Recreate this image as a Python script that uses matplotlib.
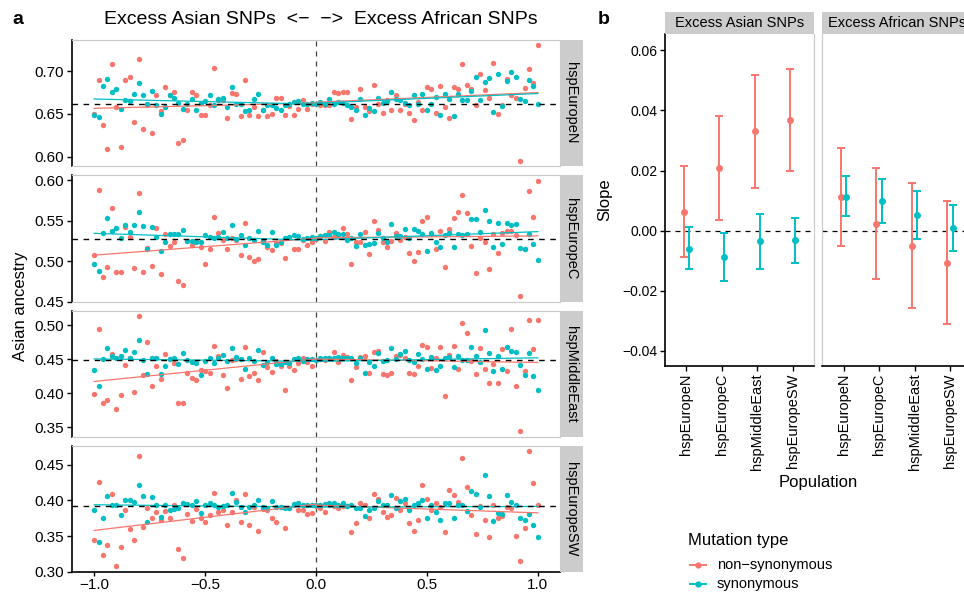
import numpy as np
import matplotlib
matplotlib.use("Agg")
import matplotlib.pyplot as plt
from matplotlib.lines import Line2D

plt.rcParams['font.family'] = ['Liberation Sans', 'DejaVu Sans']

RED = '#F8766D'
CYAN = '#00BFC4'
GREY_STRIP = '#CCCCCC'
GREY_LINE = '#C8C8C8'

populations = ["hspEuropeN", "hspEuropeC", "hspMiddleEast", "hspEuropeSW"]
mutation_types = ["non\u2212synonymous", "synonymous"]
direction = ["Excess Asian SNPs", "Excess African SNPs"]

# position along the Asian <-> African excess axis
x_grid = np.linspace(-1, 1, 101)

# ---- panel a: Asian ancestry per bin ----
nonsyn_europeN = [
    0.650, 0.690, 0.637, 0.609, 0.708, 0.658, 0.611, 0.690, 0.693, 0.641,
    0.714, 0.632, 0.660, 0.628, 0.672, 0.653, 0.681, 0.672, 0.675, 0.616,
    0.620, 0.655, 0.676, 0.672, 0.649, 0.649, 0.660, 0.703, 0.666, 0.666,
    0.645, 0.674, 0.673, 0.647, 0.690, 0.649, 0.658, 0.647, 0.655, 0.647,
    0.650, 0.668, 0.668, 0.649, 0.659, 0.649, 0.656, 0.666, 0.656, 0.662,
    0.662,
    0.660, 0.660, 0.660, 0.676, 0.674, 0.676, 0.675, 0.644, 0.658, 0.679,
    0.658, 0.653, 0.684, 0.662, 0.651, 0.666, 0.655, 0.672, 0.655, 0.662,
    0.651, 0.643, 0.664, 0.655, 0.681, 0.679, 0.651, 0.682, 0.658, 0.645,
    0.681, 0.679, 0.708, 0.684, 0.679, 0.660, 0.696, 0.678, 0.668, 0.709,
    0.650, 0.660, 0.691, 0.672, 0.669, 0.595, 0.680, 0.702, 0.686, 0.730]
syn_europeN = [
    0.649, 0.646, 0.682, 0.691, 0.676, 0.679, 0.656, 0.666, 0.665, 0.673,
    0.686, 0.672, 0.661, 0.677, 0.660, 0.650, 0.658, 0.672, 0.669, 0.663,
    0.656, 0.661, 0.667, 0.655, 0.663, 0.665, 0.672, 0.660, 0.667, 0.669,
    0.658, 0.681, 0.662, 0.661, 0.653, 0.655, 0.667, 0.673, 0.655, 0.660,
    0.660, 0.657, 0.654, 0.660, 0.661, 0.664, 0.665, 0.661, 0.662, 0.663,
    0.662,
    0.664, 0.662, 0.667, 0.662, 0.664, 0.663, 0.660, 0.658, 0.654, 0.667,
    0.649, 0.657, 0.653, 0.668, 0.663, 0.665, 0.676, 0.667, 0.666, 0.663,
    0.660, 0.672, 0.662, 0.673, 0.654, 0.662, 0.670, 0.649, 0.673, 0.667,
    0.647, 0.673, 0.666, 0.666, 0.677, 0.693, 0.666, 0.687, 0.692, 0.652,
    0.696, 0.659, 0.688, 0.699, 0.693, 0.667, 0.665, 0.690, 0.682, 0.662]

nonsyn_europeC = [
    0.508, 0.588, 0.480, 0.493, 0.566, 0.486, 0.487, 0.542, 0.530, 0.491,
    0.584, 0.487, 0.516, 0.494, 0.541, 0.484, 0.534, 0.519, 0.524, 0.475,
    0.471, 0.525, 0.520, 0.525, 0.517, 0.497, 0.515, 0.554, 0.535, 0.526,
    0.515, 0.529, 0.526, 0.508, 0.547, 0.505, 0.500, 0.503, 0.526, 0.517,
    0.514, 0.522, 0.522, 0.504, 0.529, 0.515, 0.515, 0.526, 0.520, 0.524,
    0.527,
    0.531, 0.525, 0.536, 0.530, 0.531, 0.541, 0.534, 0.496, 0.524, 0.523,
    0.536, 0.509, 0.549, 0.538, 0.524, 0.517, 0.525, 0.535, 0.526, 0.530,
    0.510, 0.500, 0.511, 0.550, 0.554, 0.534, 0.515, 0.537, 0.493, 0.539,
    0.553, 0.561, 0.581, 0.559, 0.519, 0.485, 0.529, 0.524, 0.490, 0.533,
    0.510, 0.535, 0.537, 0.537, 0.532, 0.457, 0.515, 0.586, 0.554, 0.599]
syn_europeC = [
    0.497, 0.488, 0.535, 0.553, 0.537, 0.541, 0.528, 0.545, 0.536, 0.545,
    0.561, 0.543, 0.515, 0.542, 0.530, 0.512, 0.524, 0.533, 0.533, 0.533,
    0.538, 0.525, 0.525, 0.523, 0.523, 0.532, 0.530, 0.529, 0.530, 0.536,
    0.529, 0.545, 0.527, 0.532, 0.520, 0.529, 0.526, 0.537, 0.524, 0.520,
    0.536, 0.520, 0.524, 0.529, 0.530, 0.532, 0.531, 0.527, 0.529, 0.530,
    0.528,
    0.531, 0.532, 0.532, 0.536, 0.533, 0.533, 0.526, 0.529, 0.519, 0.533,
    0.520, 0.521, 0.522, 0.535, 0.528, 0.524, 0.546, 0.531, 0.531, 0.539,
    0.528, 0.539, 0.537, 0.533, 0.512, 0.535, 0.523, 0.517, 0.532, 0.535,
    0.517, 0.533, 0.532, 0.533, 0.552, 0.552, 0.536, 0.563, 0.550, 0.518,
    0.547, 0.521, 0.547, 0.545, 0.546, 0.516, 0.515, 0.533, 0.521, 0.502]

nonsyn_middleEast = [
    0.398, 0.494, 0.386, 0.389, 0.458, 0.376, 0.397, 0.441, 0.452, 0.402,
    0.513, 0.426, 0.475, 0.411, 0.440, 0.420, 0.458, 0.450, 0.444, 0.386,
    0.385, 0.430, 0.422, 0.419, 0.434, 0.433, 0.429, 0.469, 0.454, 0.426,
    0.408, 0.448, 0.450, 0.421, 0.468, 0.425, 0.430, 0.419, 0.461, 0.438,
    0.431, 0.447, 0.440, 0.404, 0.440, 0.434, 0.444, 0.451, 0.445, 0.440,
    0.448,
    0.450, 0.448, 0.452, 0.460, 0.445, 0.456, 0.453, 0.419, 0.438, 0.453,
    0.455, 0.429, 0.460, 0.462, 0.428, 0.426, 0.429, 0.455, 0.456, 0.451,
    0.430, 0.428, 0.439, 0.470, 0.467, 0.437, 0.451, 0.467, 0.396, 0.456,
    0.469, 0.435, 0.503, 0.488, 0.447, 0.428, 0.466, 0.436, 0.415, 0.443,
    0.415, 0.464, 0.433, 0.494, 0.411, 0.344, 0.433, 0.508, 0.465, 0.507]
syn_middleEast = [
    0.434, 0.411, 0.450, 0.466, 0.454, 0.452, 0.454, 0.463, 0.452, 0.461,
    0.478, 0.448, 0.428, 0.451, 0.452, 0.428, 0.440, 0.450, 0.452, 0.443,
    0.459, 0.449, 0.445, 0.444, 0.427, 0.447, 0.452, 0.444, 0.451, 0.456,
    0.447, 0.466, 0.453, 0.450, 0.435, 0.451, 0.447, 0.463, 0.441, 0.445,
    0.452, 0.443, 0.443, 0.446, 0.444, 0.450, 0.451, 0.447, 0.450, 0.450,
    0.448,
    0.451, 0.451, 0.451, 0.451, 0.453, 0.452, 0.451, 0.452, 0.444, 0.452,
    0.430, 0.446, 0.440, 0.459, 0.447, 0.448, 0.466, 0.450, 0.457, 0.462,
    0.449, 0.446, 0.457, 0.450, 0.435, 0.453, 0.434, 0.439, 0.452, 0.453,
    0.438, 0.455, 0.448, 0.448, 0.467, 0.454, 0.446, 0.493, 0.459, 0.433,
    0.455, 0.435, 0.468, 0.462, 0.461, 0.441, 0.426, 0.459, 0.425, 0.404]

nonsyn_europeSW = [
    0.345, 0.426, 0.323, 0.337, 0.409, 0.308, 0.334, 0.387, 0.360, 0.345,
    0.463, 0.363, 0.390, 0.375, 0.384, 0.373, 0.385, 0.375, 0.393, 0.332,
    0.319, 0.381, 0.371, 0.388, 0.376, 0.369, 0.379, 0.410, 0.384, 0.387,
    0.366, 0.384, 0.400, 0.369, 0.409, 0.365, 0.391, 0.357, 0.388, 0.386,
    0.375, 0.369, 0.391, 0.361, 0.390, 0.393, 0.387, 0.386, 0.381, 0.382,
    0.392,
    0.389, 0.384, 0.394, 0.392, 0.389, 0.392, 0.392, 0.355, 0.368, 0.397,
    0.394, 0.375, 0.409, 0.402, 0.384, 0.377, 0.379, 0.404, 0.386, 0.396,
    0.368, 0.357, 0.373, 0.421, 0.402, 0.387, 0.396, 0.391, 0.356, 0.414,
    0.407, 0.398, 0.459, 0.419, 0.379, 0.353, 0.392, 0.372, 0.349, 0.394,
    0.376, 0.378, 0.391, 0.390, 0.350, 0.315, 0.361, 0.469, 0.424, 0.393]
syn_europeSW = [
    0.386, 0.342, 0.376, 0.406, 0.393, 0.393, 0.380, 0.400, 0.401, 0.398,
    0.421, 0.406, 0.370, 0.405, 0.393, 0.377, 0.393, 0.386, 0.388, 0.390,
    0.397, 0.395, 0.393, 0.399, 0.383, 0.394, 0.397, 0.393, 0.391, 0.392,
    0.393, 0.410, 0.398, 0.391, 0.384, 0.391, 0.394, 0.401, 0.391, 0.389,
    0.399, 0.391, 0.391, 0.390, 0.390, 0.395, 0.397, 0.393, 0.394, 0.394,
    0.394,
    0.394, 0.395, 0.396, 0.397, 0.393, 0.397, 0.392, 0.394, 0.390, 0.390,
    0.378, 0.387, 0.390, 0.399, 0.394, 0.394, 0.408, 0.390, 0.399, 0.402,
    0.387, 0.393, 0.397, 0.400, 0.375, 0.394, 0.384, 0.373, 0.396, 0.397,
    0.375, 0.393, 0.393, 0.385, 0.413, 0.409, 0.391, 0.435, 0.406, 0.371,
    0.382, 0.381, 0.408, 0.398, 0.394, 0.376, 0.373, 0.381, 0.365, 0.348]

mean_ancestry = [0.662, 0.5275, 0.4485, 0.392]

a_yticks = [[0.60, 0.65, 0.70],
            [0.45, 0.50, 0.55, 0.60],
            [0.35, 0.40, 0.45, 0.50],
            [0.30, 0.35, 0.40, 0.45]]
a_xticks = [-1.0, -0.5, 0.0, 0.5, 1.0]
a_xticklabels = ["\u22121.0", "\u22120.5", "0.0", "0.5", "1.0"]

# ---- panel b: slopes with confidence intervals ----
asian_nonsyn = [0.0062, 0.0209, 0.0331, 0.0369]
asian_nonsyn_lo = [-0.0089, 0.0037, 0.0143, 0.0200]
asian_nonsyn_hi = [0.0214, 0.0381, 0.0517, 0.0537]
asian_syn = [-0.0060, -0.0087, -0.0036, -0.0032]
asian_syn_lo = [-0.0129, -0.0167, -0.0126, -0.0106]
asian_syn_hi = [0.0011, -0.0009, 0.0054, 0.0043]

african_nonsyn = [0.0113, 0.0023, -0.0050, -0.0108]
african_nonsyn_lo = [-0.0050, -0.0162, -0.0256, -0.0312]
african_nonsyn_hi = [0.0274, 0.0208, 0.0158, 0.0098]
african_syn = [0.0113, 0.0100, 0.0053, 0.0009]
african_syn_lo = [0.0048, 0.0024, -0.0028, -0.0067]
african_syn_hi = [0.0181, 0.0173, 0.0133, 0.0084]

b_yticks = [-0.04, -0.02, 0.00, 0.02, 0.04, 0.06]
b_yticklabels = ["\u22120.04", "\u22120.02", "0.00", "0.02", "0.04", "0.06"]

W, H = 964, 592
fig = plt.figure(figsize=(W / 100, H / 100), dpi=100)


def box(l, t, r, b):
    return [l / W, 1 - b / H, (r - l) / W, (b - t) / H]


def fx(x):
    return x / W


def fy(y):
    return 1 - y / H


# ================= panel a =================
nonsyn_all = [nonsyn_europeN, nonsyn_europeC, nonsyn_middleEast, nonsyn_europeSW]
syn_all = [syn_europeN, syn_europeC, syn_middleEast, syn_europeSW]
rows = [(40, 166), (175, 302), (311, 437), (446, 572)]
ylims = [(0.5891, 0.7362), (0.4496, 0.6062), (0.3353, 0.5206), (0.2995, 0.4764)]

for k in range(4):
    top, bot = rows[k]
    ax = fig.add_axes(box(72, top, 560, bot))
    ax.set_xlim(-1.1, 1.1)
    ax.set_ylim(*ylims[k])
    ax.axvline(0, color='#444444', lw=0.9, ls=(0, (4, 4)), zorder=1)
    ax.scatter(x_grid, nonsyn_all[k], s=15, color=RED, lw=0, zorder=3)
    ax.scatter(x_grid, syn_all[k], s=15, color=CYAN, lw=0, zorder=3)
    # fitted lines on each side of zero, slope taken from panel b
    series = ((nonsyn_all[k], asian_nonsyn[k], african_nonsyn[k], RED),
              (syn_all[k], asian_syn[k], african_syn[k], CYAN))
    for vals, s_left, s_right, col in series:
        vals = np.asarray(vals)
        for half, slope in ((x_grid <= 0, s_left), (x_grid >= 0, s_right)):
            xs = x_grid[half]
            icpt = np.mean(vals[half] - slope * xs)
            ends = xs[[0, -1]]
            ax.plot(ends, icpt + slope * ends, color=col, lw=0.9, zorder=4)
    ax.axhline(mean_ancestry[k], color='black', lw=1.0, ls=(0, (4, 4)), zorder=5)

    ax.set_yticks(a_yticks[k])
    ax.set_yticklabels(["%.2f" % v for v in a_yticks[k]])
    ax.tick_params(axis='y', direction='out', length=3.5, width=1.0,
                   labelsize=11, pad=2)
    for side in ('top', 'right', 'bottom'):
        ax.spines[side].set_color(GREY_LINE)
        ax.spines[side].set_linewidth(0.8)
    ax.spines['left'].set_linewidth(1.2)
    if k == 3:
        ax.spines['bottom'].set_color('black')
        ax.spines['bottom'].set_linewidth(1.2)
        ax.set_xticks(a_xticks)
        ax.set_xticklabels(a_xticklabels)
        ax.tick_params(axis='x', direction='out', length=3, width=1.0,
                       labelsize=11, pad=1)
    else:
        ax.set_xticks([])

    sax = fig.add_axes(box(560, top, 582.5, bot))
    sax.set_facecolor(GREY_STRIP)
    sax.set_xticks([])
    sax.set_yticks([])
    for sp in sax.spines.values():
        sp.set_visible(False)
    sax.text(0.5, 0.5, populations[k], rotation=-90, ha='center', va='center',
             fontsize=10.5, transform=sax.transAxes)

fig.text(fx(12), fy(19), 'a', fontsize=14, fontweight='bold', ha='left', va='center')
fig.text(fx(321), fy(20), "Excess Asian SNPs  <\u2212  \u2212>  Excess African SNPs",
         fontsize=14, ha='center', va='center')
fig.text(fx(21), fy(306), 'Asian ancestry', fontsize=12, rotation=90,
         ha='center', va='center')

# ================= panel b =================
cats = np.arange(len(populations))
dodge = 0.075
facets = [
    (asian_nonsyn, asian_nonsyn_lo, asian_nonsyn_hi, asian_syn, asian_syn_lo, asian_syn_hi),
    (african_nonsyn, african_nonsyn_lo, african_nonsyn_hi, african_syn, african_syn_lo, african_syn_hi),
]
facet_x = [(665, 814), (822.3, 971.3)]

for j in range(2):
    l, r = facet_x[j]
    ax = fig.add_axes(box(l, 34.3, r, 366))
    ax.set_xlim(-0.6, 3.6)
    ax.set_ylim(-0.045, 0.0653)
    ns, ns_lo, ns_hi, sy, sy_lo, sy_hi = [np.asarray(v) for v in facets[j]]
    ax.axhline(0, color='black', lw=0.9, ls=(0, (4, 4)), zorder=1)
    ax.errorbar(cats - dodge, ns, yerr=[ns - ns_lo, ns_hi - ns], fmt='o', color=RED,
                ms=4, elinewidth=1.4, capsize=2.8, capthick=1.4, zorder=3)
    ax.errorbar(cats + dodge, sy, yerr=[sy - sy_lo, sy_hi - sy], fmt='o', color=CYAN,
                ms=4, elinewidth=1.4, capsize=2.8, capthick=1.4, zorder=3)

    ax.set_xticks(cats)
    ax.set_xticklabels(populations, rotation=90, fontsize=10.5)
    ax.tick_params(axis='x', direction='out', length=3.5, width=1.0, pad=2)
    ax.spines['top'].set_visible(False)
    ax.spines['bottom'].set_linewidth(1.2)
    ax.spines['right'].set_color(GREY_LINE)
    ax.spines['right'].set_linewidth(0.8)
    if j == 0:
        ax.spines['left'].set_linewidth(1.2)
        ax.set_yticks(b_yticks)
        ax.set_yticklabels(b_yticklabels)
        ax.tick_params(axis='y', direction='out', length=3.5, width=1.0,
                       labelsize=10, pad=2)
    else:
        ax.spines['left'].set_color(GREY_LINE)
        ax.spines['left'].set_linewidth(0.8)
        ax.set_yticks([])

    sax = fig.add_axes(box(l, 12.3, r, 34.3))
    sax.set_facecolor(GREY_STRIP)
    sax.set_xticks([])
    sax.set_yticks([])
    for sp in sax.spines.values():
        sp.set_visible(False)
    sax.text(0.5, 0.5, direction[j], ha='center', va='center', fontsize=10.5,
             transform=sax.transAxes)

fig.text(fx(598), fy(19), 'b', fontsize=14, fontweight='bold', ha='left', va='center')
fig.text(fx(605), fy(200), 'Slope', fontsize=12, rotation=90, ha='center', va='center')
fig.text(fx(818), fy(482), 'Population', fontsize=12, ha='center', va='center')

# legend
fig.text(fx(688), fy(540), 'Mutation type', fontsize=12, ha='left', va='center')
for lab, col, yy in ((mutation_types[0], RED, 565), (mutation_types[1], CYAN, 584)):
    fig.add_artist(Line2D([fx(690), fx(706)], [fy(yy), fy(yy)], color=col, lw=1.4,
                          transform=fig.transFigure))
    fig.add_artist(Line2D([fx(698)], [fy(yy)], color=col, marker='o', ms=3.5, lw=0,
                          transform=fig.transFigure))
    fig.text(fx(717), fy(yy), lab, fontsize=10.5, ha='left', va='center')

fig.savefig('out.png', dpi=100)
